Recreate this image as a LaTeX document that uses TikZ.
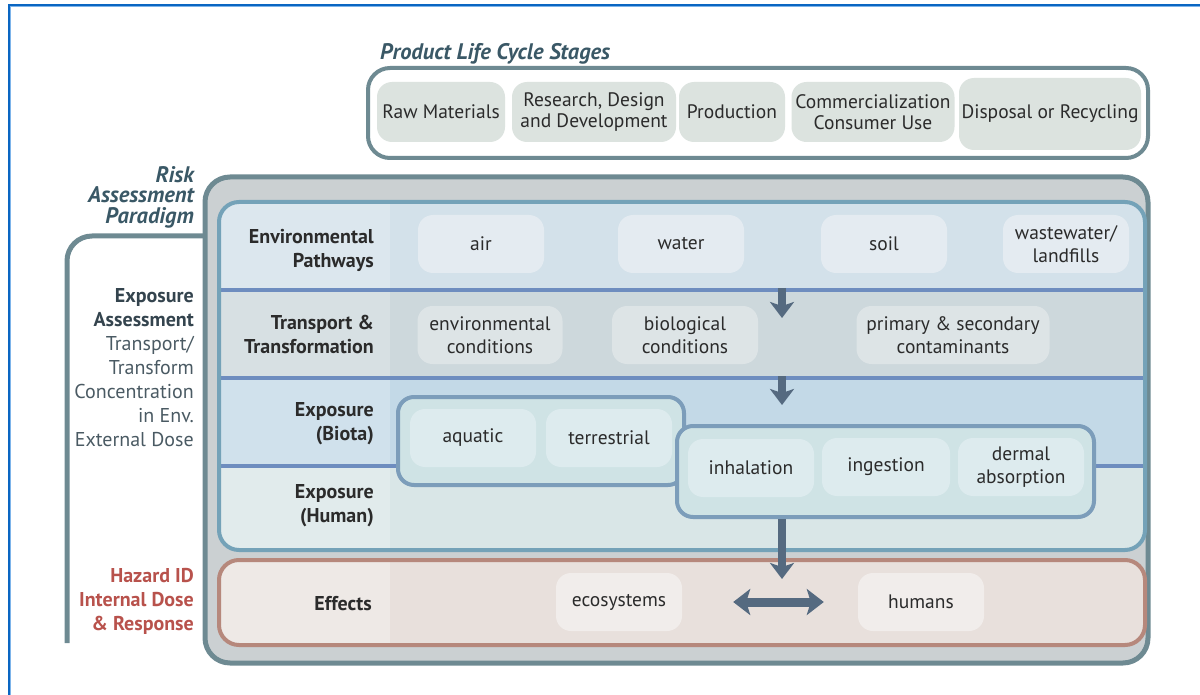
\documentclass[tikz,border=0pt]{standalone}
\usepackage{fontspec}
\setmainfont{PT Sans}
\usetikzlibrary{arrows.meta}
\definecolor{frameblue}{HTML}{0A66C2}
\definecolor{framelight}{HTML}{7DB4EA}
\definecolor{slate}{HTML}{6E8A92}
\definecolor{titlec}{HTML}{3A5866}
\definecolor{graybg}{HTML}{CBD0D2}
\definecolor{panelstroke}{HTML}{74A2B8}
\definecolor{sepc}{HTML}{6E8DBF}
\definecolor{rowA}{HTML}{D3E1EA}
\definecolor{rowB}{HTML}{CDD8DC}
\definecolor{rowC}{HTML}{C3D9E7}
\definecolor{rowD}{HTML}{D9E6E7}
\definecolor{nodeA}{HTML}{E4EBF1}
\definecolor{nodeB}{HTML}{DDE4E6}
\definecolor{nodeC}{HTML}{DDEBEE}
\definecolor{groupfill}{HTML}{CFE3E5}
\definecolor{groupstroke}{HTML}{7C9DBA}
\definecolor{effstroke}{HTML}{B6887C}
\definecolor{efffill}{HTML}{E8E0DC}
\definecolor{effnode}{HTML}{F1EDEB}
\definecolor{arrowc}{HTML}{556A80}
\definecolor{hazard}{HTML}{B8524C}
\definecolor{stagefill}{HTML}{DCE3DF}
\definecolor{textdark}{HTML}{2B2B2B}
\definecolor{leftgray}{HTML}{4A5A63}
\definecolor{leftbold}{HTML}{34444E}
\newcommand\nfont{\fontsize{19.5}{23.5}\selectfont}
\newcommand\sfont{\fontsize{19.5}{21}\selectfont}
\newcommand\lfont{\fontsize{20}{24}\selectfont}
\newcommand\tfont{\fontsize{22.5}{20.5}\selectfont}
\tikzset{
  pill/.style={rounded corners=15pt, inner sep=0pt, align=center, font=\nfont, text=textdark, minimum height=58pt, minimum width=126pt},
  stage/.style={pill, fill=stagefill, minimum height=60pt, font=\sfont},
  rowlabel/.style={anchor=east, align=right, font=\lfont\bfseries, text=textdark, inner sep=0pt},
  group/.style={draw=groupstroke, line width=4pt, fill=groupfill, rounded corners=16pt, inner sep=0pt},
  bigarrow/.style={draw=arrowc, line width=8pt, -{Stealth[width=24pt,length=16pt,inset=4pt]}},
  dblarrow/.style={draw=arrowc, line width=9pt, {Stealth[width=26pt,length=17pt,inset=4pt]}-{Stealth[width=26pt,length=17pt,inset=4pt]}},
}
\begin{document}
\begin{tikzpicture}[x=1pt,y=-1pt]
\useasboundingbox (0,0) rectangle (1200,695);
% outer blue frame
\draw[frameblue, line width=2pt] (8.5,695) -- (8.5,5) -- (1200,5);
\draw[framelight, line width=1pt] (10.5,695) -- (10.5,7) -- (1200,7);
% product life cycle
\node[anchor=west, font=\tfont\bfseries\itshape, text=titlec, inner sep=0pt] (plctitle) at (380,54) {Product Life Cycle Stages};
\draw[draw=slate, line width=4pt, fill=white, rounded corners=22pt] (368,68) rectangle (1148,158);
\node[stage, minimum width=128pt] (raw) at (441,112) {Raw Materials};
\node[stage, minimum width=164pt] (rdd) at (594,112) {Research, Design\\and Development};
\node[stage, minimum width=106pt] (prod) at (732,112) {Production};
\node[stage, minimum width=163pt] (comm) at (873,112) {Commercialization\\Consumer Use};
\node[stage, minimum width=182pt, minimum height=72pt] (disp) at (1050,114) {Disposal or Recycling};
% risk assessment paradigm
\node[anchor=east, align=right, font=\tfont\bfseries\itshape, text=titlec, inner sep=0pt] (rap) at (194,197) {Risk\\Assessment\\Paradigm};
\draw[slate, line width=5pt, rounded corners=25pt] (67,643) -- (67,236) -- (210,236);
\node[anchor=east, align=right, font=\lfont, text=leftgray, inner sep=0pt] (expa) at (194,368)
  {\textbf{\color{leftbold}Exposure}\\\textbf{\color{leftbold}Assessment}\\Transport/\\Transform\\Concentration\\in Env.\\External Dose};
\node[anchor=east, align=right, font=\lfont\bfseries, text=hazard, inner sep=0pt] (haz) at (194,601) {Hazard ID\\Internal Dose\\\& Response};
% big gray box
\draw[fill=graybg, draw=slate, line width=5pt, rounded corners=25pt] (205,177) rectangle (1148,663);
% blue panel
\begin{scope}
\clip[rounded corners=20pt] (219,202) rectangle (1145,550);
\fill[rowA] (219,202) rectangle (1145,290);
\fill[rowB] (219,290) rectangle (1145,378);
\fill[rowC] (219,378) rectangle (1145,466);
\fill[rowD] (219,466) rectangle (1145,550);
\fill[white, opacity=0.22] (219,202) rectangle (390,550);
\draw[sepc, line width=4pt] (219,290) -- (1145,290);
\draw[sepc, line width=4pt] (219,378) -- (1145,378);
\draw[sepc, line width=4pt] (219,466) -- (1145,466);
\end{scope}
\draw[panelstroke, line width=4pt, rounded corners=20pt] (219,202) rectangle (1145,550);
% effects panel
\begin{scope}
\clip[rounded corners=20pt] (219,560) rectangle (1145,645);
\fill[efffill] (219,560) rectangle (1145,645);
\fill[white, opacity=0.3] (219,560) rectangle (390,645);
\end{scope}
\draw[effstroke, line width=4pt, rounded corners=20pt] (219,560) rectangle (1145,645);
% row labels
\node[rowlabel] (lenv) at (374,250) {Environmental\\Pathways};
\node[rowlabel] (ltra) at (374,334) {Transport \&\\Transformation};
\node[rowlabel] (lbio) at (374,424) {Exposure\\(Biota)};
\node[rowlabel] (lhum) at (374,506) {Exposure\\(Human)};
\node[rowlabel] (leff) at (372,604) {Effects};
% environmental pathways
\node[pill, fill=nodeA] (air) at (481,244) {air};
\node[pill, fill=nodeA] (water) at (681,244) {water};
\node[pill, fill=nodeA] (soil) at (884,244) {soil};
\node[pill, fill=nodeA] (waste) at (1066,244) {wastewater/\\landfills};
% transport
\node[pill, fill=nodeB, minimum width=145pt] (envc) at (490,335) {environmental\\conditions};
\node[pill, fill=nodeB, minimum width=146pt] (bioc) at (685,335) {biological\\conditions};
\node[pill, fill=nodeB, minimum width=193pt] (prim) at (953,335) {primary \& secondary\\contaminants};
% biota group
\node[group, minimum width=286pt, minimum height=88pt] (bgrp) at (541,441) {};
\node[pill, fill=nodeC] (aqua) at (473,438) {aquatic};
\node[pill, fill=nodeC] (terr) at (609,438) {terrestrial};
% human group
\node[group, minimum width=417pt, minimum height=91pt] (hgrp) at (885.5,471.5) {};
\node[pill, fill=nodeC] (inh) at (751,468) {inhalation};
\node[pill, fill=nodeC, minimum width=128pt] (ing) at (886,467) {ingestion};
\node[pill, fill=nodeC] (derm) at (1021,467) {dermal\\absorption};
% effects
\node[pill, fill=effnode] (eco) at (619,602) {ecosystems};
\node[pill, fill=effnode] (hum) at (921,602) {humans};
% arrows
\coordinate (a1s) at (782,288);
\coordinate (a1e) at (782,318);
\coordinate (a2s) at (782,376);
\coordinate (a2e) at (782,405);
\coordinate (a3e) at (782,579);
\coordinate (a3s) at (hgrp.south -| a3e);
\draw[bigarrow] (a1s) -- (a1e);
\draw[bigarrow] (a2s) -- (a2e);
\draw[bigarrow] (a3s) -- (a3e);
\draw[dblarrow] ([xshift=51pt]eco.east) -- ([xshift=-34pt]hum.west);
\end{tikzpicture}
\end{document}
